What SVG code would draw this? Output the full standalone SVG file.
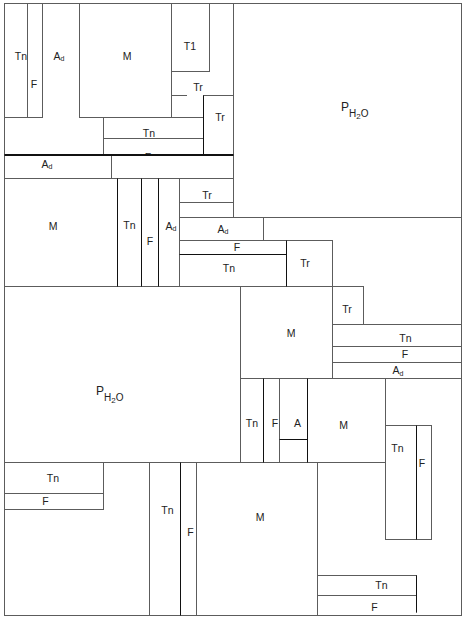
<svg xmlns="http://www.w3.org/2000/svg" width="468" height="627" viewBox="0 0 468 627">
<style>
.b{fill:none;stroke:#5c5c5c;stroke-width:1}
.w{fill:#fff;stroke:#5c5c5c;stroke-width:1}
.k{fill:none;stroke:#111;stroke-width:1}
text{font-family:"Liberation Sans",Arial,sans-serif;font-size:10.5px;fill:#222;text-anchor:middle}
text.p{text-anchor:start;font-size:12px}
.s{font-size:7px}
</style>
<rect x="0" y="0" width="468" height="627" fill="#fff"/>
<g id="frame"><rect class="b" x="4.5" y="3.5" width="457" height="612"/></g>

<g id="n01"><rect class="b" x="4.5" y="3.5" width="23" height="114"/><text x="21" y="59.8">Tn</text></g>
<g id="n02"><rect class="w" x="27.5" y="3.5" width="15" height="114"/><text x="34" y="87.8">F</text></g>
<g id="n03"><polygon class="b" points="42.5,3.5 79.5,3.5 79.5,117.5 103.5,117.5 103.5,155.5 4.5,155.5 4.5,117.5 42.5,117.5"/><text x="59" y="59.8">A<tspan class="s" dy="1.5">d</tspan></text></g>
<g id="n04"><rect class="b" x="79.5" y="3.5" width="92" height="114"/><text x="127" y="59.8">M</text></g>
<g id="n05"><rect class="b" x="171.5" y="3.5" width="38" height="68"/><text x="190" y="49.8">T1</text></g>
<g id="n06"><path class="b" d="M171.5,95.5H187M210,95.5H233.5"/><text x="198" y="90.8">Tr</text></g>
<g id="n07"><rect class="b" x="203.5" y="95.5" width="30" height="60"/><text x="220" y="120.8">Tr</text></g>
<g id="n08"><rect class="b" x="103.5" y="117.5" width="100" height="21"/><text x="149" y="136.8">Tn</text></g>
<g id="n09"><rect class="b" x="103.5" y="138.5" width="100" height="17"/><text x="148" y="161">F</text></g>
<g id="n10"><rect class="w" x="4.5" y="155.5" width="107" height="23"/><text x="47" y="167.8">A<tspan class="s" dy="1.5">d</tspan></text></g>
<g id="n11"><rect class="w" x="111.5" y="155.5" width="122" height="23"/></g>
<g id="n12"><rect class="b" x="233.5" y="3.5" width="228" height="214"/><text class="p" x="341" y="111">P<tspan font-size="10" dy="6">H</tspan><tspan font-size="8" dy="1.5">2</tspan><tspan font-size="10" dy="-1.5">O</tspan></text></g>

<g id="n13"><rect class="b" x="4.5" y="178.5" width="113" height="108"/><text x="53" y="229.8">M</text></g>
<g id="n14"><rect class="b" x="117.5" y="178.5" width="24" height="108"/><text x="129.5" y="228.8">Tn</text></g>
<g id="n15"><rect class="b" x="141.5" y="178.5" width="17" height="108"/><text x="150" y="245">F</text></g>
<g id="n16"><rect class="b" x="158.5" y="178.5" width="21" height="108"/><text x="171" y="229.8">A<tspan class="s" dy="1.5">d</tspan></text></g>
<g id="n17"><rect class="b" x="179.5" y="178.5" width="54" height="24"/><text x="207" y="198.8">Tr</text></g>
<g id="n18"><rect class="b" x="179.5" y="202.5" width="54" height="15"/></g>
<g id="n19"><rect class="b" x="179.5" y="217.5" width="84" height="23"/><text x="223" y="232.8">A<tspan class="s" dy="1.5">d</tspan></text></g>
<g id="n20"><rect class="b" x="179.5" y="240.5" width="107" height="14"/><text x="237" y="250.6">F</text></g>
<g id="n21"><rect class="b" x="179.5" y="254.5" width="107" height="32"/><text x="229" y="271.8">Tn</text></g>
<g id="n22"><rect class="b" x="286.5" y="240.5" width="46" height="46"/><text x="305" y="266.8">Tr</text></g>

<g id="n23"><rect class="b" x="4.5" y="286.5" width="236" height="176"/><text class="p" x="96" y="395">P<tspan font-size="10" dy="6">H</tspan><tspan font-size="8" dy="1.5">2</tspan><tspan font-size="10" dy="-1.5">O</tspan></text></g>
<g id="n24"><rect class="b" x="240.5" y="286.5" width="92" height="92"/><text x="291" y="336.5">M</text></g>
<g id="n25"><rect class="b" x="332.5" y="286.5" width="31" height="38"/><text x="347" y="312.8">Tr</text></g>
<g id="n26"><rect class="b" x="332.5" y="324.5" width="129" height="22"/><text x="405.5" y="341.5">Tn</text></g>
<g id="n27"><rect class="b" x="332.5" y="346.5" width="129" height="16"/><text x="405" y="358">F</text></g>
<g id="n28"><rect class="b" x="332.5" y="362.5" width="129" height="16"/><text x="398" y="374">A<tspan class="s" dy="1.5">d</tspan></text></g>

<g id="n29"><rect class="b" x="240.5" y="378.5" width="23" height="84"/><text x="252" y="426.8">Tn</text></g>
<g id="n30"><rect class="b" x="263.5" y="378.5" width="16" height="84"/><text x="275" y="426.8">F</text></g>
<g id="n31"><rect class="b" x="279.5" y="378.5" width="28" height="84"/><text x="297.5" y="426.8">A</text></g>
<g id="n32"><rect class="b" x="307.5" y="378.5" width="78" height="84"/><text x="343.5" y="428.8">M</text></g>
<g id="n33"><rect class="b" x="385.5" y="425.5" width="31" height="114"/><text x="397.5" y="451.8">Tn</text></g>
<g id="n34"><rect class="b" x="416.5" y="425.5" width="15" height="114"/><text x="422" y="466.8">F</text></g>

<g id="n35"><rect class="b" x="4.5" y="462.5" width="99" height="31"/><text x="53" y="481.8">Tn</text></g>
<g id="n36"><rect class="b" x="4.5" y="493.5" width="99" height="16"/><text x="45.5" y="505">F</text></g>
<g id="n37"><rect class="b" x="149.5" y="462.5" width="31" height="153"/><text x="167.5" y="513.8">Tn</text></g>
<g id="n38"><rect class="b" x="180.5" y="462.5" width="16" height="153"/><text x="190.5" y="535.5">F</text></g>
<g id="n39"><rect class="b" x="196.5" y="462.5" width="121" height="153"/><text x="260" y="520.5">M</text></g>
<g id="n40"><rect class="b" x="317.5" y="575.5" width="99" height="20"/><text x="381.5" y="588.8">Tn</text></g>
<g id="n41"><path class="b" d="M416.5,595.5V612.5"/><text x="374.5" y="610.5">F</text></g>

<g id="connectors">
<path class="k" d="M203.5,95.5V155.5"/>
<path d="M4.5,155H233.5" fill="none" stroke="#111" stroke-width="2"/>
<path class="k" d="M117.5,178.5V286.5M141.5,178.5V286.5M158.5,178.5V286.5"/>
<path class="k" d="M179.5,254.5H286.5M286.5,240.5V286.5"/>
<path class="k" d="M263.5,378.5V462.5M307.5,378.5V462.5M279.5,439.5H308"/>
<path class="k" d="M416.5,425.5V539.5M416.5,575.5V612.5M180.5,462.5V615.5"/>
</g>
</svg>
